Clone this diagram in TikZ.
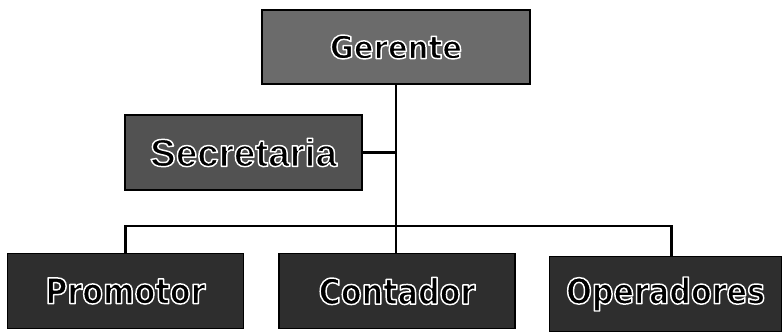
\documentclass[tikz,border=0pt]{standalone}
\usepackage{fontspec}
\usepackage{tikz}
\usetikzlibrary{positioning}
\usetikzlibrary{calc}
\newfontfamily\gerfont{DejaVu Sans}[FakeStretch=0.92]
\newfontfamily\secfont{Liberation Sans}
\newfontfamily\lowfont{DejaVu Sans}[FakeStretch=0.86]
% black letters with a white rim, one copy of the text
\newcommand{\rimtext}[1]{\special{pdf:literal q 2 Tr 1 G 1.25 w 1 j}#1\special{pdf:literal Q}}

\begin{document}
\begin{tikzpicture}[x=0.03cm, y=-0.03cm,
 topblock/.style = {draw, rectangle, line width=1.4pt, minimum height=2.22cm, minimum width=8.04cm,
                    align=center, fill=black!58, inner sep=0pt,
                    font=\gerfont\bfseries\fontsize{27}{29}\selectfont},
 secblock/.style = {draw, rectangle, line width=1.4pt, minimum height=2.25cm, minimum width=7.11cm,
                    align=center, fill=black!68, inner sep=0pt,
                    font=\secfont\bfseries\fontsize{33}{35}\selectfont},
 lowblock/.style = {draw, rectangle, line width=1.4pt, minimum height=2.25cm, minimum width=7.08cm,
                    align=center, fill=black!82, inner sep=0pt,
                    font=\lowfont\bfseries\fontsize{30}{32}\selectfont},
 link/.style = {draw, line width=2.3pt},
                        ]
    \useasboundingbox (0,0) rectangle (782,331);

    \node [topblock] (gerente) at (396,47) {\rimtext{Gerente}};
    \node [secblock] (secretaria) at (243.5,152.5) {\rimtext{Secretaria}};

    \node [lowblock] (contador) at (397,291) {\rimtext{Contador}};
    \node [lowblock, left=1.02cm of contador] (promotor) {\rimtext{Promotor}};
    \node [lowblock, minimum width=6.96cm, right=0.99cm of contador, yshift=-0.09cm] (operadores) {\rimtext{Operadores}};

    \coordinate (bus) at (396,226);
    \coordinate (opdrop) at ([xshift=0.18cm]operadores.north);

    \path [link] (gerente.south) -- (gerente.south |- contador.north);
    \path [link] (secretaria.east) -- (secretaria.east -| gerente.south);
    \path [link] (promotor.north) -- (promotor.north |- bus) -| (opdrop);

\end{tikzpicture}
\end{document}
